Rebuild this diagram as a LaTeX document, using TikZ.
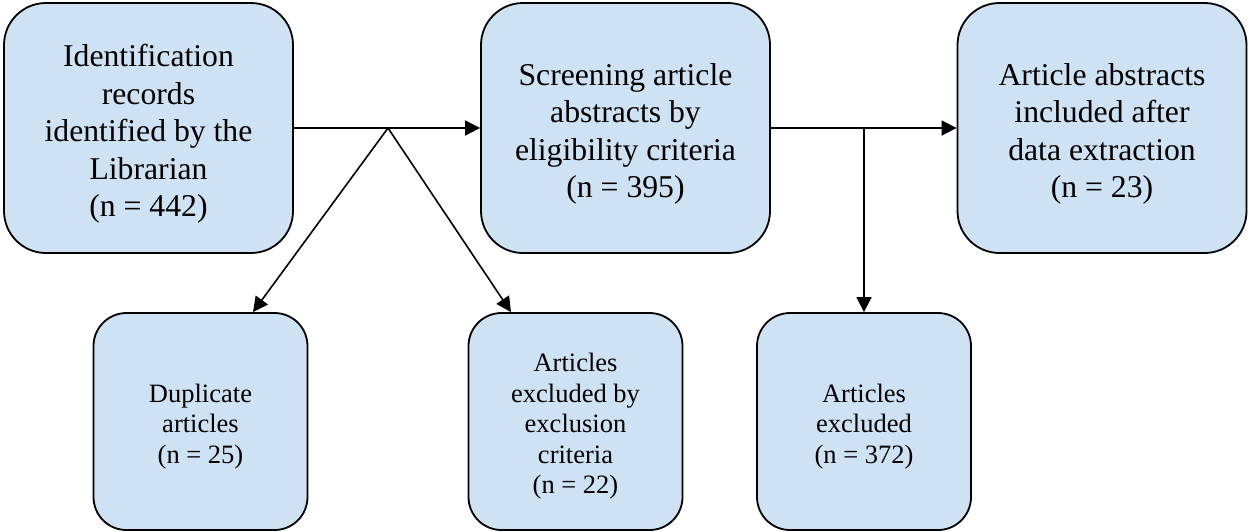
\documentclass[tikz,border=0pt]{standalone}
\usepackage{fontspec}
\setmainfont{Liberation Serif}
\usetikzlibrary{arrows.meta}
\definecolor{boxfill}{RGB}{207,226,243}
\newcommand\topstrut{\rule{0pt}{34pt}}
\newcommand\botstrut{\rule{0pt}{28pt}}
\begin{document}
\begin{tikzpicture}[x=1pt,y=-1pt,
  topbox/.style={draw=black, line width=1.8pt, fill=boxfill, rounded corners=42pt,
    minimum width=289pt, minimum height=250pt, align=center, inner sep=0pt,
    font=\fontsize{31.7}{37.5}\selectfont},
  botbox/.style={draw=black, line width=1.8pt, fill=boxfill, rounded corners=33pt,
    minimum width=214pt, minimum height=217pt, align=center, inner sep=0pt,
    font=\fontsize{26.5}{30.5}\selectfont},
  arr/.style={line width=1.6pt, -{Triangle[length=15pt,width=15pt]}}]
\useasboundingbox (0,0) rectangle (1249,531);
\node[topbox] (b1) at (148.5,128) {\topstrut Identification\\records\\identified by the\\Librarian\\(n = 442)};
\node[topbox] (b2) at (625.5,128) {\topstrut Screening article\\abstracts by\\eligibility criteria\\(n = 395)};
\node[topbox] (b3) at (1102,128) {\topstrut Article abstracts\\included after\\data extraction\\(n = 23)};
\node[botbox] (b4) at (200.5,421.5) {\botstrut Duplicate\\articles\\(n = 25)};
\node[botbox] (b5) at (575.5,421.5) {\botstrut Articles\\excluded by\\exclusion\\criteria\\(n = 22)};
\node[botbox] (b6) at (864,421.5) {\botstrut Articles\\excluded\\(n = 372)};
\coordinate (s1) at (388,128);
\coordinate (s2) at (864,128);
\draw[arr] (b1.east) -- (b2.west);
\draw[arr] (b2.east) -- (b3.west);
\draw[arr] (s1) -- ([xshift=52.5pt]b4.north);
\draw[arr] (s1) -- ([xshift=-64.5pt]b5.north);
\draw[arr] (s2) -- (b6.north);
\end{tikzpicture}
\end{document}
